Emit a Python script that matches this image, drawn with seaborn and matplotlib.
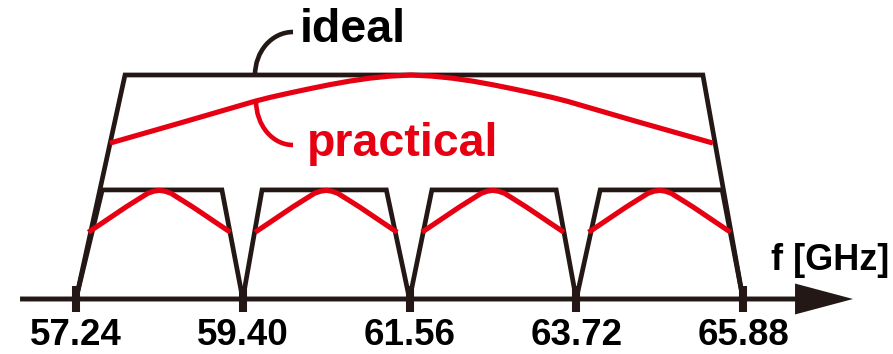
import matplotlib
matplotlib.use("Agg")
import matplotlib.pyplot as plt
from matplotlib.patches import Arc
import pandas as pd
import seaborn as sns

# Channel boundaries on the frequency axis (GHz)
tick_ghz = [57.24, 59.40, 61.56, 63.72, 65.88]
tick_labels = ["57.24", "59.40", "61.56", "63.72", "65.88"]

# Ideal overall passband: frequency (GHz) and normalised level
band_ideal_f = [57.24, 57.875, 65.36, 65.88]
band_ideal_level = [0.0, 1.0, 1.0, 0.0]

# Ideal per-channel passbands
chan_lo = [57.24, 59.40, 61.56, 63.72]
chan_hi = [59.40, 61.56, 63.72, 65.88]
chan_top_lo = [57.58, 59.65, 61.85, 64.03]
chan_top_hi = [59.13, 61.26, 63.46, 65.61]
chan_top_level = 0.487

# Practical overall response
band_prac_f = [57.680, 58.652, 59.559, 59.753, 60.012, 60.271, 60.530,
               60.789, 61.048, 61.307, 61.580, 61.853, 62.112, 62.371,
               62.630, 62.889, 63.148, 63.407, 63.601, 64.508, 65.491]
band_prac_level = [0.696, 0.792, 0.883, 0.900, 0.920, 0.939, 0.957,
                   0.973, 0.986, 0.995, 1.000, 0.995, 0.986, 0.973,
                   0.957, 0.939, 0.920, 0.900, 0.883, 0.792, 0.696]

# Practical per-channel response, offsets from each channel centre (GHz)
chan_center = [58.32, 60.48, 62.64, 64.80]
chan_prac_df = [-0.92, -0.755, -0.583, -0.432, -0.28, -0.15, -0.075, 0.0,
                0.075, 0.15, 0.28, 0.432, 0.583, 0.755, 0.92]
chan_prac_level = [0.298, 0.336, 0.376, 0.411, 0.444, 0.472, 0.481, 0.485,
                   0.481, 0.472, 0.444, 0.411, 0.376, 0.336, 0.298]

BLACK = "#231815"
RED = "#E60012"

sns.set_style("white")
plt.rcParams["font.family"] = ["Liberation Sans", "DejaVu Sans"]
plt.rcParams["font.weight"] = "bold"

# Assemble long-form tables, one "shape" per drawn outline
ideal_rows = [dict(shape="band", f=f, level=l)
              for f, l in zip(band_ideal_f, band_ideal_level)]
for i in range(len(chan_lo)):
    for f, l in zip([chan_lo[i], chan_top_lo[i], chan_top_hi[i], chan_hi[i]],
                    [0.0, chan_top_level, chan_top_level, 0.0]):
        ideal_rows.append(dict(shape=f"ch{i}", f=f, level=l))
ideal_df = pd.DataFrame(ideal_rows)

prac_rows = [dict(shape="band", f=f, level=l)
             for f, l in zip(band_prac_f, band_prac_level)]
for i, c in enumerate(chan_center):
    for d, l in zip(chan_prac_df, chan_prac_level):
        prac_rows.append(dict(shape=f"ch{i}", f=c + d, level=l))
prac_df = pd.DataFrame(prac_rows)

fig = plt.figure(figsize=(8.93, 3.54), dpi=100)
ax = fig.add_axes([0, 0, 1, 1])

line_kw = dict(units="shape", estimator=None, sort=False, legend=False,
               solid_joinstyle="miter", solid_capstyle="butt")
sns.lineplot(data=ideal_df, x="f", y="level", color=BLACK, linewidth=3.4,
             ax=ax, **line_kw)
sns.lineplot(data=prac_df, x="f", y="level", color=RED, linewidth=3.7,
             ax=ax, **line_kw)

# Frequency axis with arrowhead
ax.arrow(56.515, 0.0, 67.305 - 56.515, 0.0, width=0.022, head_width=0.138,
         head_length=0.751, length_includes_head=True, color=BLACK, lw=0,
         zorder=3)

# Callout hooks for the two labels
ax.add_patch(Arc((60.051, 1.0), width=0.984, height=0.384, theta1=90,
                 theta2=180, color=BLACK, lw=3.3))
ax.add_patch(Arc((60.051, 0.884), width=0.958, height=0.393, theta1=180,
                 theta2=270, color=RED, lw=3.3))

ax.text(60.142, 1.147, "ideal", fontsize=33.5, fontweight="bold",
        color="black", ha="left", va="baseline")
ax.text(60.232, 0.638, "practical", fontsize=33.5, fontweight="bold",
        color=RED, ha="left", va="baseline")
ax.text(66.243, 0.129, "f [GHz]", fontsize=26, fontweight="bold",
        color="black", ha="left", va="baseline")

ax.set_xticks(tick_ghz, labels=tick_labels)
ax.tick_params(axis="x", bottom=True, direction="inout", length=19.4,
               width=5.8, color=BLACK, labelcolor="black", labelsize=26.5,
               pad=4)
for lab in ax.get_xticklabels():
    lab.set_fontweight("bold")
ax.set_yticks([])
for side in ["left", "right", "top"]:
    ax.spines[side].set_visible(False)
ax.spines["bottom"].set_position(("data", 0))
ax.spines["bottom"].set_visible(False)
ax.set_xlabel("")
ax.set_ylabel("")

ax.set_xlim(56.2555, 67.8229)
ax.set_ylim(-0.24554, 1.33482)

fig.savefig("out.png", dpi=100)
